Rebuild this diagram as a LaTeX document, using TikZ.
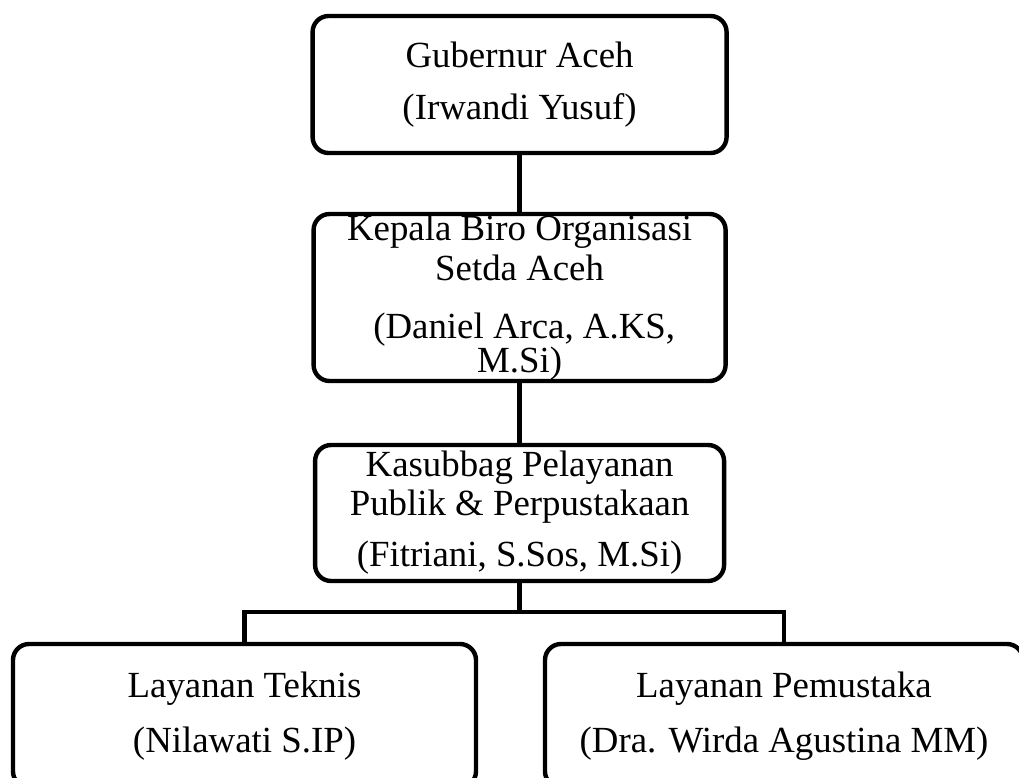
\documentclass[tikz,border=0pt]{standalone}
\usepackage{fontspec}
\setmainfont{Liberation Serif}
\usepackage{tikz}
\usetikzlibrary{positioning}

\begin{document}
\begin{tikzpicture}[orgbox/.style={draw, line width=0.11cm, rounded corners=0.4cm, align=center, inner sep=0pt, font=\fontsize{26.2}{28.45}\selectfont},
    link/.style={line width=0.11cm}]
    \useasboundingbox (0,0) rectangle (25.475,-19.45);
    \clip (0,0) rectangle (25.475,-19.45);

    \node[orgbox, minimum width=10.35cm, minimum height=3.425cm] (gubernur) at (12.99,-2.1125) {Gubernur Aceh\\[0.3cm](Irwandi Yusuf)};
    \node[orgbox, minimum width=10.3cm, minimum height=4.175cm] (kepala) at (12.99,-7.4375) {Kepala Biro Organisasi\\Setda Aceh\\[0.45cm]\hspace*{.25em}(Daniel Arca, A.KS,\\[-0.15cm]M.Si)};
    \node[orgbox, minimum width=10.225cm, minimum height=3.4cm] (kasubbag) at (12.99,-12.825) {Kasubbag Pelayanan\\[-0.025cm]Publik \& Perpustakaan\\[0.275cm](Fitriani, S.Sos, M.Si)};
    \node[orgbox, minimum width=11.575cm, minimum height=3.585cm] (teknis) at (6.1125,-17.8925) {Layanan Teknis\\[0.375cm](Nilawati S.IP)};
    \node[orgbox, minimum width=11.95cm, minimum height=3.585cm] (pemustaka) at (19.6,-17.8925) {Layanan Pemustaka\\[0.375cm](Dra. Wirda Agustina MM)};

    %
    \coordinate (split) at (12.99,-15.3);
    \draw[link] (gubernur) -- (kepala);
    \draw[link] (kepala) -- (kasubbag);
    \draw[link] (kasubbag) -- (split);
    \draw[link] (teknis) |- (split) -| (pemustaka);
\end{tikzpicture}
\end{document}
